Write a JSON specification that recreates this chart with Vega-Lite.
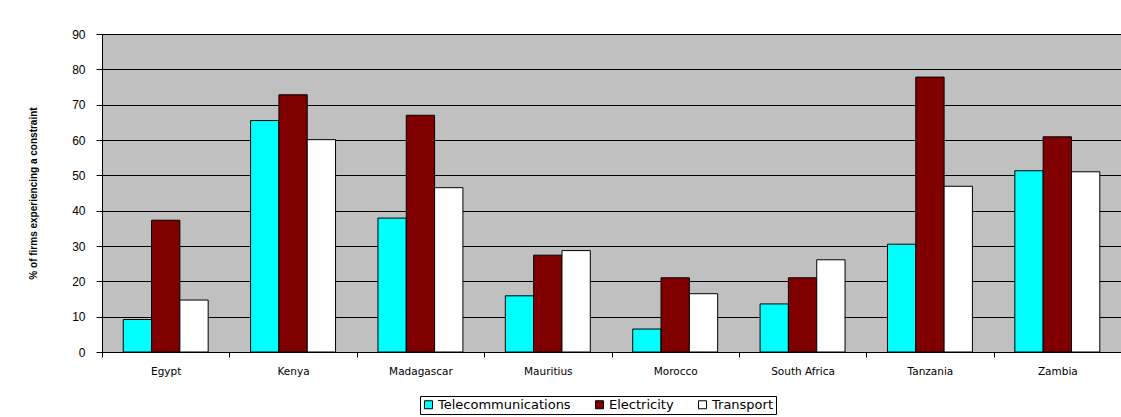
{
  "$schema": "https://vega.github.io/schema/vega-lite/v6.json",
  "autosize": "none",
  "padding": {"left": 102, "top": 34, "right": 0, "bottom": 65},
  "width": 1019,
  "height": 318,
  "background": "white",
  "data": {
    "values": [
      {"country": "Egypt", "type": "Telecommunications", "value": 9.2},
      {"country": "Egypt", "type": "Electricity", "value": 37.3},
      {"country": "Egypt", "type": "Transport", "value": 14.7},
      {"country": "Kenya", "type": "Telecommunications", "value": 65.5},
      {"country": "Kenya", "type": "Electricity", "value": 72.8},
      {"country": "Kenya", "type": "Transport", "value": 60.1},
      {"country": "Madagascar", "type": "Telecommunications", "value": 37.9},
      {"country": "Madagascar", "type": "Electricity", "value": 67.0},
      {"country": "Madagascar", "type": "Transport", "value": 46.5},
      {"country": "Mauritius", "type": "Telecommunications", "value": 15.9},
      {"country": "Mauritius", "type": "Electricity", "value": 27.4},
      {"country": "Mauritius", "type": "Transport", "value": 28.7},
      {"country": "Morocco", "type": "Telecommunications", "value": 6.5},
      {"country": "Morocco", "type": "Electricity", "value": 21.0},
      {"country": "Morocco", "type": "Transport", "value": 16.5},
      {"country": "South Africa", "type": "Telecommunications", "value": 13.6},
      {"country": "South Africa", "type": "Electricity", "value": 21.0},
      {"country": "South Africa", "type": "Transport", "value": 26.1},
      {"country": "Tanzania", "type": "Telecommunications", "value": 30.5},
      {"country": "Tanzania", "type": "Electricity", "value": 77.8},
      {"country": "Tanzania", "type": "Transport", "value": 46.9},
      {"country": "Zambia", "type": "Telecommunications", "value": 51.3},
      {"country": "Zambia", "type": "Electricity", "value": 60.9},
      {"country": "Zambia", "type": "Transport", "value": 51.0}
    ]
  },
  "mark": {"type": "bar", "stroke": "black", "strokeWidth": 1},
  "encoding": {
    "x": {
      "field": "country",
      "type": "nominal",
      "sort": null,
      "scale": {"paddingInner": 0, "paddingOuter": 0},
      "axis": {
        "title": null,
        "labelAngle": 0,
        "tickBand": "extent",
        "tickSize": 5,
        "tickColor": "black",
        "domainColor": "black",
        "labelFont": "DejaVu Sans",
        "labelFontSize": 10.5,
        "labelColor": "black",
        "labelPadding": 9,
        "grid": false
      }
    },
    "xOffset": {
      "field": "type",
      "type": "nominal",
      "sort": ["Telecommunications", "Electricity", "Transport"],
      "scale": {"paddingInner": 0, "paddingOuter": 0.749}
    },
    "y": {
      "field": "value",
      "type": "quantitative",
      "scale": {"domain": [0, 90], "nice": false},
      "axis": {
        "title": "% of firms experiencing a constraint",
        "titleFont": "Liberation Sans",
        "titleFontSize": 10,
        "titleFontWeight": "bold",
        "titleColor": "black",
        "titlePadding": 33,
        "values": [0, 10, 20, 30, 40, 50, 60, 70, 80, 90],
        "tickSize": 6,
        "tickColor": "black",
        "domainColor": "black",
        "labelFont": "Liberation Sans",
        "labelFontSize": 12,
        "labelColor": "black",
        "labelPadding": 11,
        "grid": true,
        "gridColor": "black",
        "gridOpacity": 1
      }
    },
    "color": {
      "field": "type",
      "type": "nominal",
      "sort": ["Telecommunications", "Electricity", "Transport"],
      "scale": {
        "domain": ["Telecommunications", "Electricity", "Transport"],
        "range": ["#00FFFF", "#800000", "#FFFFFF"]
      },
      "legend": {
        "title": null,
        "orient": "none",
        "direction": "horizontal",
        "legendX": 318,
        "legendY": 362,
        "strokeColor": "black",
        "padding": 2,
        "symbolType": "square",
        "symbolSize": 64,
        "symbolStrokeColor": "black",
        "symbolStrokeWidth": 1,
        "symbolOpacity": 1,
        "labelFont": "DejaVu Sans",
        "labelFontSize": 13,
        "labelColor": "black",
        "labelOffset": 3,
        "columnPadding": 22
      }
    }
  },
  "config": {
    "view": {"fill": "#C0C0C0", "stroke": null}
  }
}
